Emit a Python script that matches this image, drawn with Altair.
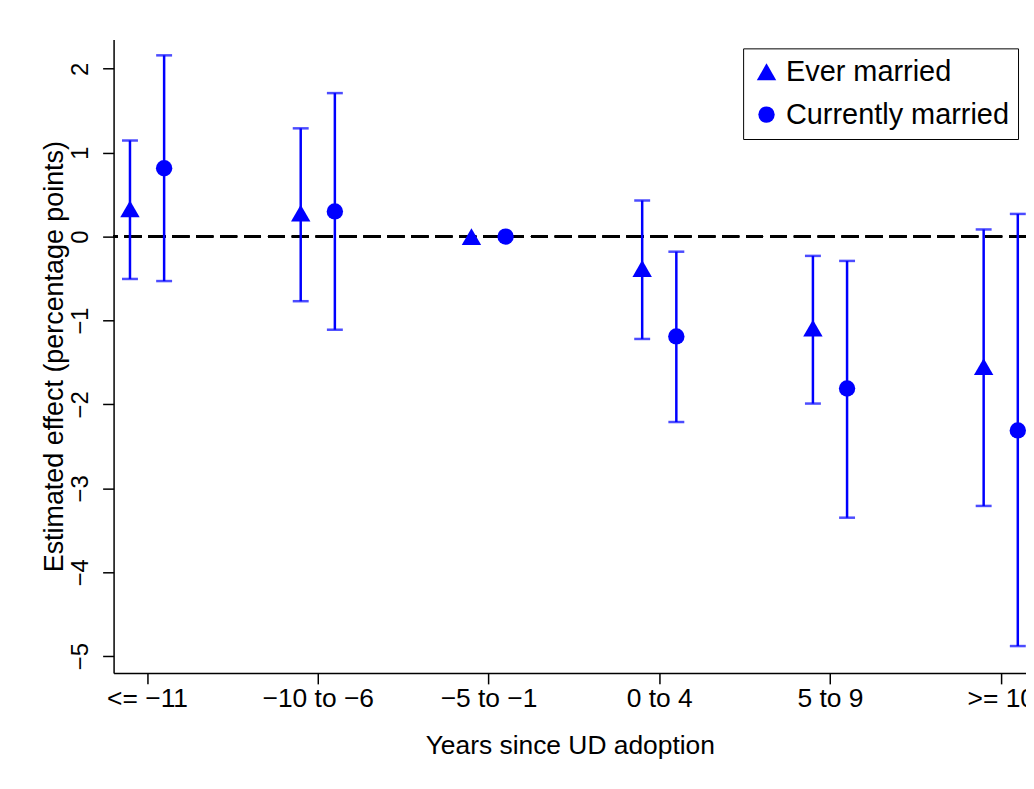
import json
import altair as alt
import pandas as pd

# ---- data ----
groups = ["<= \u221211", "\u221210 to \u22126", "\u22125 to \u22121", "0 to 4", "5 to 9", ">= 10"]
group_pos = [1, 2, 3, 4, 5, 6]
series_names = ["Ever married", "Currently married"]

ever_est = [0.33, 0.28, 0.0, -0.38, -1.09, -1.55]
ever_lo = [-0.505, -0.77, None, -1.22, -1.99, -3.21]
ever_hi = [1.145, 1.29, None, 0.43, -0.23, 0.085]

curr_est = [0.815, 0.30, 0.0, -1.19, -1.81, -2.31]
curr_lo = [-0.53, -1.11, None, -2.21, -3.35, -4.88]
curr_hi = [2.16, 1.71, None, -0.18, -0.29, 0.27]

y_ticks = [-5, -4, -3, -2, -1, 0, 1, 2]

rows = []
for i, p in enumerate(group_pos):
    rows.append({"pos": p, "series": series_names[0], "est": ever_est[i], "lo": ever_lo[i], "hi": ever_hi[i]})
    rows.append({"pos": p, "series": series_names[1], "est": curr_est[i], "lo": curr_lo[i], "hi": curr_hi[i]})
df = pd.DataFrame(rows)

FONT = "Liberation Sans"
BLUE = "#0000ff"

base = alt.Chart(df).transform_calculate(
    xp="datum.pos + (datum.series == 'Ever married' ? -0.1 : 0.1)"
)

label_expr = json.dumps(groups) + "[datum.value - 1]"

x_enc = alt.X(
    "xp:Q",
    scale=alt.Scale(domain=[0.804, 6.148], nice=False, zero=False),
    axis=alt.Axis(
        values=group_pos, labelExpr=label_expr, title="Years since UD adoption",
        grid=False, domainColor="black", domainWidth=1.5, tickColor="black",
        tickWidth=1.5, tickSize=11, labelFontSize=26.5, labelFont=FONT, labelColor="black",
        labelPadding=2, titleFontSize=26.5, titleFont=FONT, titleFontWeight="normal",
        titleColor="black", titlePadding=20, labelFlush=False, labelOverlap=False,
        labelLimit=300,
    ),
)
y_scale = alt.Scale(domain=[-5.2, 2.35], nice=False, zero=False)
y_axis = alt.Axis(
    values=y_ticks, title="Estimated effect (percentage points)", grid=False,
    domainColor="black", domainWidth=1.5, tickColor="black", tickWidth=1.5, tickSize=11,
    labelAngle=270, labelFontSize=24, labelFont=FONT, labelColor="black", labelPadding=10,
    titleFontSize=27, titleFont=FONT, titleFontWeight="normal", titleColor="black",
    titlePadding=0, labelFlush=False,
)

legend = alt.Legend(
    orient="none", legendX=632, legendY=9, title=None,
    strokeColor="black", fillColor="white", padding=9,
    labelFontSize=29, labelFont=FONT, labelColor="black", labelOffset=5,
    labelLimit=400, symbolFillColor=BLUE, symbolStrokeColor=BLUE,
    symbolStrokeWidth=0, rowPadding=13, symbolOpacity=1,
)

zero = alt.Chart(df).mark_rule(color="black", strokeWidth=2, strokeDash=[17, 7]).encode(
    y=alt.datum(0, scale=y_scale, axis=y_axis)
)

bars = base.mark_rule(color=BLUE, strokeWidth=2.5).encode(
    x=x_enc,
    y=alt.Y("lo:Q", scale=y_scale, axis=y_axis),
    y2="hi:Q",
)
cap_lo = base.mark_tick(color=BLUE, orient="horizontal", size=16, thickness=2.5).encode(
    x=x_enc, y=alt.Y("lo:Q", scale=y_scale, axis=y_axis)
)
cap_hi = base.mark_tick(color=BLUE, orient="horizontal", size=16, thickness=2.5).encode(
    x=x_enc, y=alt.Y("hi:Q", scale=y_scale, axis=y_axis)
)
points = base.mark_point(filled=True, color=BLUE, opacity=1).encode(
    x=x_enc,
    y=alt.Y("est:Q", scale=y_scale, axis=y_axis),
    size=alt.Size("series:N", scale=alt.Scale(domain=series_names, range=[380, 270]), legend=legend),
    shape=alt.Shape(
        "series:N",
        scale=alt.Scale(domain=series_names, range=["triangle-up", "circle"]),
        legend=legend,
    ),
)

chart = alt.layer(zero, bars, cap_lo, cap_hi, points).properties(
    width=916,
    height=636,
    padding={"left": 106, "top": 30, "right": 0, "bottom": 110},
    autosize=alt.AutoSizeParams(type="none"),
    background="white",
).configure_view(stroke=None)

chart.save("out.html", embed_options={"renderer": "svg", "actions": False})
